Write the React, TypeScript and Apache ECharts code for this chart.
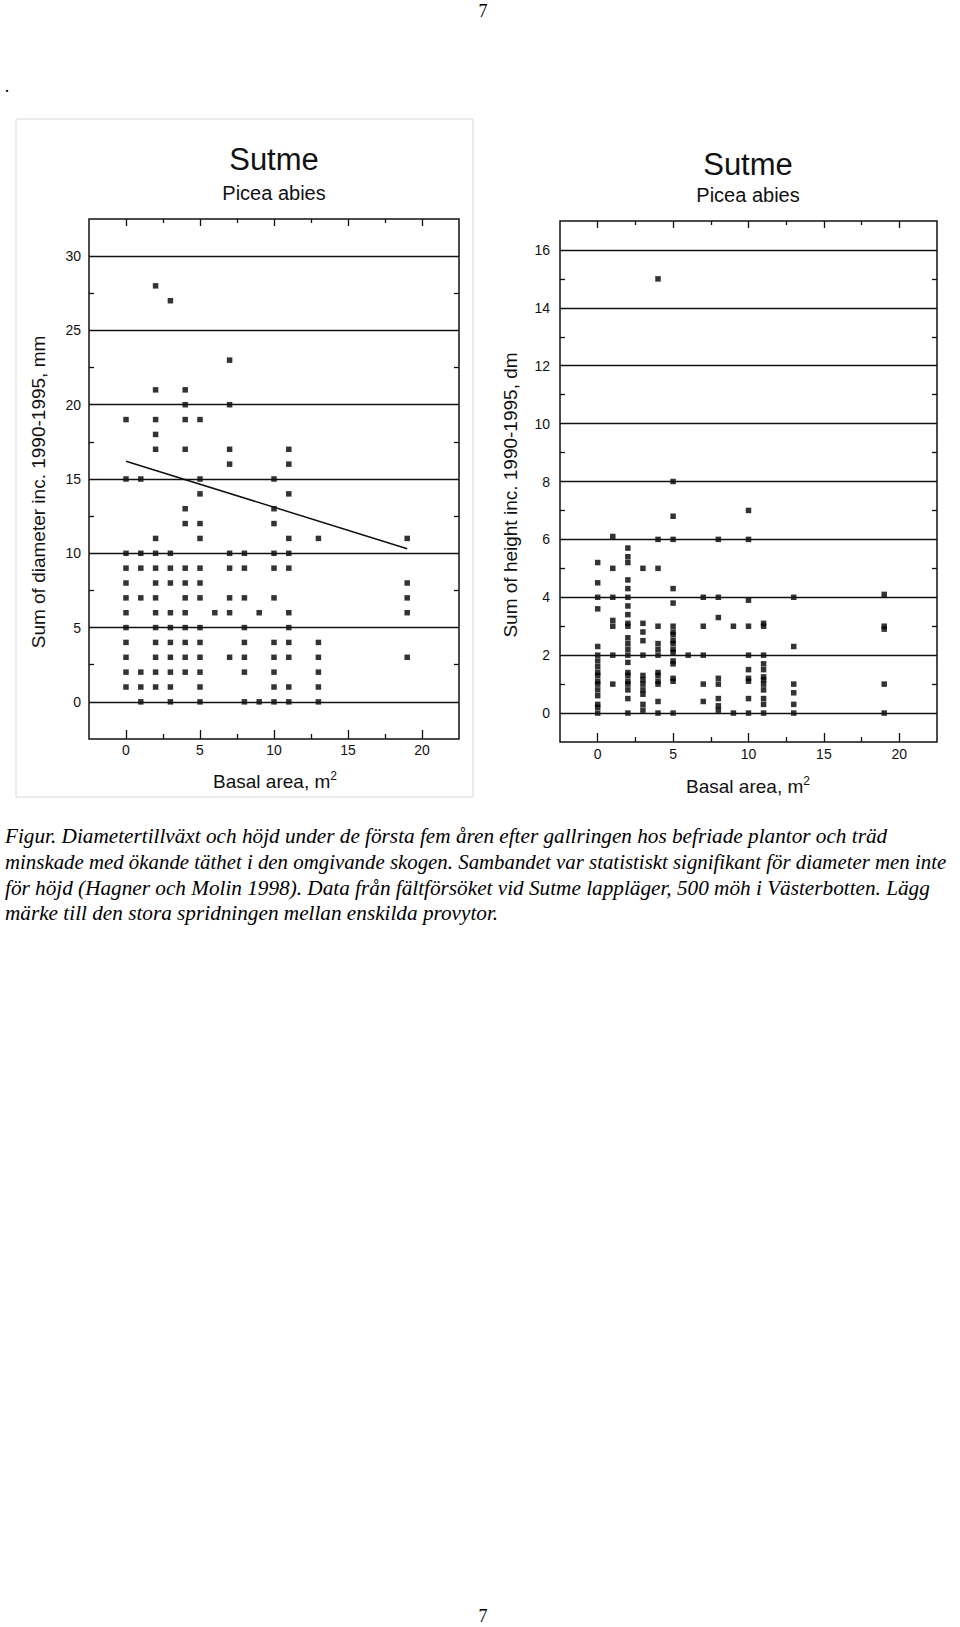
import React, { useEffect, useRef } from 'react';
import * as echarts from 'echarts';

// ---- Left panel: Sum of diameter inc. 1990-1995, mm vs basal area ----
const diamBasal = [0, 1, 2, 3, 4, 5, 6, 7, 8, 9, 10, 11, 13, 19];
const diamValues = [
  [19, 15, 10, 9, 8, 7, 6, 5, 4, 3, 2, 1],
  [15, 10, 9, 7, 2, 1, 0],
  [28, 21, 19, 18, 17, 11, 10, 9, 8, 7, 6, 5, 4, 3, 2, 1],
  [27, 10, 9, 8, 6, 5, 4, 3, 2, 1, 0],
  [21, 20, 19, 17, 13, 12, 9, 8, 7, 6, 5, 4, 3, 2],
  [19, 15, 14, 12, 11, 9, 8, 7, 5, 4, 3, 2, 1, 0],
  [6],
  [23, 20, 17, 16, 10, 9, 7, 6, 3],
  [10, 9, 7, 5, 4, 3, 2, 0],
  [6, 0],
  [15, 13, 12, 10, 9, 7, 4, 3, 2, 1, 0],
  [17, 16, 14, 11, 10, 9, 6, 5, 4, 3, 1, 0],
  [11, 4, 3, 2, 1, 0],
  [11, 8, 7, 6, 3],
];
const diamFitIntercept = 16.2;
const diamFitSlope = -0.31;
const diamFitRange = [0, 19];
const diamYLabels = [0, 5, 10, 15, 20, 25, 30];
const diamYMinor = [2.5, 7.5, 12.5, 17.5, 22.5, 27.5];

// ---- Right panel: Sum of height inc. 1990-1995, dm vs basal area ----
const heightBasal = [0, 1, 2, 3, 4, 5, 6, 7, 8, 9, 10, 11, 13, 19];
const heightValues = [
  [5.2, 4.5, 4.0, 3.6, 2.3, 2.0, 1.8, 1.6, 1.4, 1.3, 1.1, 1.0, 0.8, 0.6, 0.3, 0.2, 0.0],
  [6.1, 5.0, 4.0, 3.2, 3.0, 2.0, 1.0],
  [5.7, 5.4, 5.2, 4.6, 4.3, 4.0, 3.7, 3.4, 3.1, 3.0, 2.6, 2.4, 2.2, 2.0, 1.75, 1.4, 1.3, 1.1, 1.0, 0.8, 0.5, 0.0],
  [5.0, 3.1, 2.8, 2.5, 2.0, 1.3, 1.15, 1.0, 0.8, 0.65, 0.3, 0.1],
  [15.0, 6.0, 5.0, 3.0, 2.4, 2.2, 2.0, 1.4, 1.3, 1.1, 1.0, 0.4, 0.0],
  [8.0, 6.8, 6.0, 4.3, 3.8, 3.0, 2.8, 2.7, 2.5, 2.4, 2.2, 2.1, 1.8, 1.7, 1.2, 1.1, 0.0],
  [2.0],
  [4.0, 3.0, 2.0, 1.0, 0.4],
  [6.0, 4.0, 3.3, 1.2, 1.0, 0.5, 0.25, 0.1],
  [3.0, 0.0],
  [7.0, 6.0, 3.9, 3.0, 2.0, 1.5, 1.2, 1.1, 0.5, 0.0],
  [3.1, 3.0, 2.0, 1.7, 1.5, 1.25, 1.15, 1.0, 0.8, 0.5, 0.3, 0.0],
  [4.0, 2.3, 1.0, 0.7, 0.3, 0.0],
  [4.1, 3.0, 2.9, 1.0, 0.0],
];
const heightYLabels = [0, 2, 4, 6, 8, 10, 12, 14, 16];
const heightYMinor = [1, 3, 5, 7, 9, 11, 13, 15];

// ---- shared x axis ----
const basalXLabels = [0, 5, 10, 15, 20];
const basalXMinor = [2.5, 7.5, 12.5, 17.5];

const captionLines = [
  'Figur. Diametertillväxt och höjd under de första fem åren efter gallringen hos befriade plantor och träd',
  'minskade med ökande täthet i den omgivande skogen. Sambandet var statistiskt signifikant för diameter men inte',
  'för höjd (Hagner och Molin 1998). Data från fältförsöket vid Sutme lappläger, 500 möh i Västerbotten. Lägg',
  'märke till den stora spridningen mellan enskilda provytor.',
];
const captionScale = [0.965, 0.948, 0.965, 0.965];

const SANS = '"Liberation Sans", Arial, sans-serif';
const SERIF = '"Liberation Serif", "Times New Roman", serif';
const INK = '#111';

function toPoints(xs: number[], ys: number[][]) {
  const pts: number[][] = [];
  xs.forEach((x, i) => ys[i].forEach((y) => pts.push([x, y])));
  return pts;
}

function xAxisDef(gridIndex: number, position: string, ticks: number[], len: number, labels: number[] | null, margin: number) {
  return {
    type: 'value',
    gridIndex,
    position,
    min: -2.5,
    max: 22.5,
    axisLine: { show: false, onZero: false },
    splitLine: { show: false },
    axisTick: { show: true, inside: true, length: len, customValues: ticks, lineStyle: { color: INK, width: 1.3 } },
    axisLabel: labels
      ? { show: true, customValues: labels, margin, fontSize: 14, color: INK, fontFamily: SANS }
      : { show: false },
  };
}

function yAxisDef(gridIndex: number, position: string, min: number, max: number, ticks: number[], labels: number[] | null, margin: number) {
  return {
    type: 'value',
    gridIndex,
    position,
    min,
    max,
    axisLine: { show: false, onZero: false },
    splitLine: { show: false },
    axisTick: { show: true, inside: true, length: 5, customValues: ticks, lineStyle: { color: INK, width: 1.3 } },
    axisLabel: labels
      ? { show: true, customValues: labels, margin, fontSize: 14, color: INK, fontFamily: SANS }
      : { show: false },
  };
}

function gridLines(values: number[]) {
  return {
    silent: true,
    symbol: ['none', 'none'],
    label: { show: false },
    lineStyle: { color: INK, width: 1.4, type: 'solid' },
    data: values.map((v) => ({ yAxis: v })),
  };
}

export default function App() {
  const ref = useRef<HTMLDivElement>(null);

  useEffect(() => {
    const chart = echarts.init(ref.current!, null, { renderer: 'svg' });

    const diamPts = toPoints(diamBasal, diamValues);
    const heightPts = toPoints(heightBasal, heightValues);
    const fitLine = diamFitRange.map((x) => [x, diamFitIntercept + diamFitSlope * x]);

    const option = {
      animation: false,
      backgroundColor: '#fff',
      grid: [
        { left: 89, top: 219, width: 370, height: 520, show: true, borderColor: INK, borderWidth: 1.5, backgroundColor: 'transparent' },
        { left: 560, top: 221, width: 377, height: 521, show: true, borderColor: INK, borderWidth: 1.5, backgroundColor: 'transparent' },
      ],
      xAxis: [
        xAxisDef(0, 'bottom', basalXLabels, 9, basalXLabels, 4),
        xAxisDef(0, 'bottom', basalXMinor, 5, null, 4),
        xAxisDef(0, 'top', basalXLabels, 7, null, 4),
        xAxisDef(0, 'top', basalXMinor, 4, null, 4),
        xAxisDef(1, 'bottom', basalXLabels, 9, basalXLabels, 5),
        xAxisDef(1, 'bottom', basalXMinor, 5, null, 5),
        xAxisDef(1, 'top', basalXLabels, 7, null, 5),
        xAxisDef(1, 'top', basalXMinor, 4, null, 5),
      ],
      yAxis: [
        yAxisDef(0, 'left', -2.5, 32.5, diamYMinor, diamYLabels, 8),
        yAxisDef(0, 'right', -2.5, 32.5, diamYMinor, null, 8),
        yAxisDef(1, 'left', -1, 17, heightYMinor, heightYLabels, 10),
        yAxisDef(1, 'right', -1, 17, heightYMinor, null, 10),
      ],
      series: [
        {
          type: 'scatter',
          xAxisIndex: 0,
          yAxisIndex: 0,
          symbol: 'rect',
          symbolSize: 5.5,
          itemStyle: { color: '#000' },
          data: diamPts,
          markLine: gridLines(diamYLabels),
        },
        {
          type: 'line',
          xAxisIndex: 0,
          yAxisIndex: 0,
          showSymbol: false,
          symbol: 'none',
          lineStyle: { color: INK, width: 1.5 },
          data: fitLine,
        },
        {
          type: 'scatter',
          xAxisIndex: 4,
          yAxisIndex: 2,
          symbol: 'rect',
          symbolSize: 5.5,
          itemStyle: { color: '#000' },
          data: heightPts,
          markLine: gridLines(heightYLabels),
        },
      ],
      graphic: [
        { type: 'rect', shape: { x: 16, y: 119, width: 457, height: 678 }, style: { fill: 'none', stroke: '#d8d8d8', lineWidth: 1 }, silent: true },
        { type: 'text', x: 483, y: 11, style: { text: '7', font: `18px ${SERIF}`, fill: '#000', align: 'center', verticalAlign: 'middle' } },
        { type: 'text', x: 7, y: 86, style: { text: '.', font: `18px ${SERIF}`, fill: '#000', align: 'center', verticalAlign: 'middle' } },
        { type: 'text', x: 483, y: 1616, style: { text: '7', font: `18px ${SERIF}`, fill: '#000', align: 'center', verticalAlign: 'middle' } },
        { type: 'text', x: 274, y: 175, style: { text: 'Sutme', font: `31px ${SANS}`, fill: INK, align: 'center', verticalAlign: 'bottom' } },
        { type: 'text', x: 274, y: 203, style: { text: 'Picea abies', font: `20px ${SANS}`, fill: INK, align: 'center', verticalAlign: 'bottom' } },
        { type: 'text', x: 748, y: 180, style: { text: 'Sutme', font: `31px ${SANS}`, fill: INK, align: 'center', verticalAlign: 'bottom' } },
        { type: 'text', x: 748, y: 205, style: { text: 'Picea abies', font: `20px ${SANS}`, fill: INK, align: 'center', verticalAlign: 'bottom' } },
        { type: 'text', x: 38, y: 492, rotation: Math.PI / 2, style: { text: 'Sum of diameter inc. 1990-1995, mm', font: `19px ${SANS}`, fill: INK, align: 'center', verticalAlign: 'middle' } },
        { type: 'text', x: 510, y: 495, rotation: Math.PI / 2, style: { text: 'Sum of height inc. 1990-1995, dm', font: `19px ${SANS}`, fill: INK, align: 'center', verticalAlign: 'middle' } },
        {
          type: 'text', x: 275, y: 781,
          style: {
            text: '{b|Basal area, m}{s|2}', align: 'center', verticalAlign: 'middle',
            rich: { b: { font: `19px ${SANS}`, fill: INK }, s: { font: `12px ${SANS}`, fill: INK, padding: [0, 0, 10, 0] } },
          },
        },
        {
          type: 'text', x: 748, y: 786,
          style: {
            text: '{b|Basal area, m}{s|2}', align: 'center', verticalAlign: 'middle',
            rich: { b: { font: `19px ${SANS}`, fill: INK }, s: { font: `12px ${SANS}`, fill: INK, padding: [0, 0, 10, 0] } },
          },
        },
        ...captionLines.map((line, i) => ({
          type: 'text', x: 5, y: 836 + i * 25.7, scaleX: captionScale[i],
          style: { text: line, font: `italic 22px ${SERIF}`, fill: '#000', align: 'left', verticalAlign: 'middle' },
        })),
      ],
    };

    chart.setOption(option as any);
    return () => chart.dispose();
  }, []);

  return (
    <div
      ref={ref}
      style={{ position: 'absolute', left: 0, top: 0, width: 960, height: 1627, background: '#fff' }}
    />
  );
}
